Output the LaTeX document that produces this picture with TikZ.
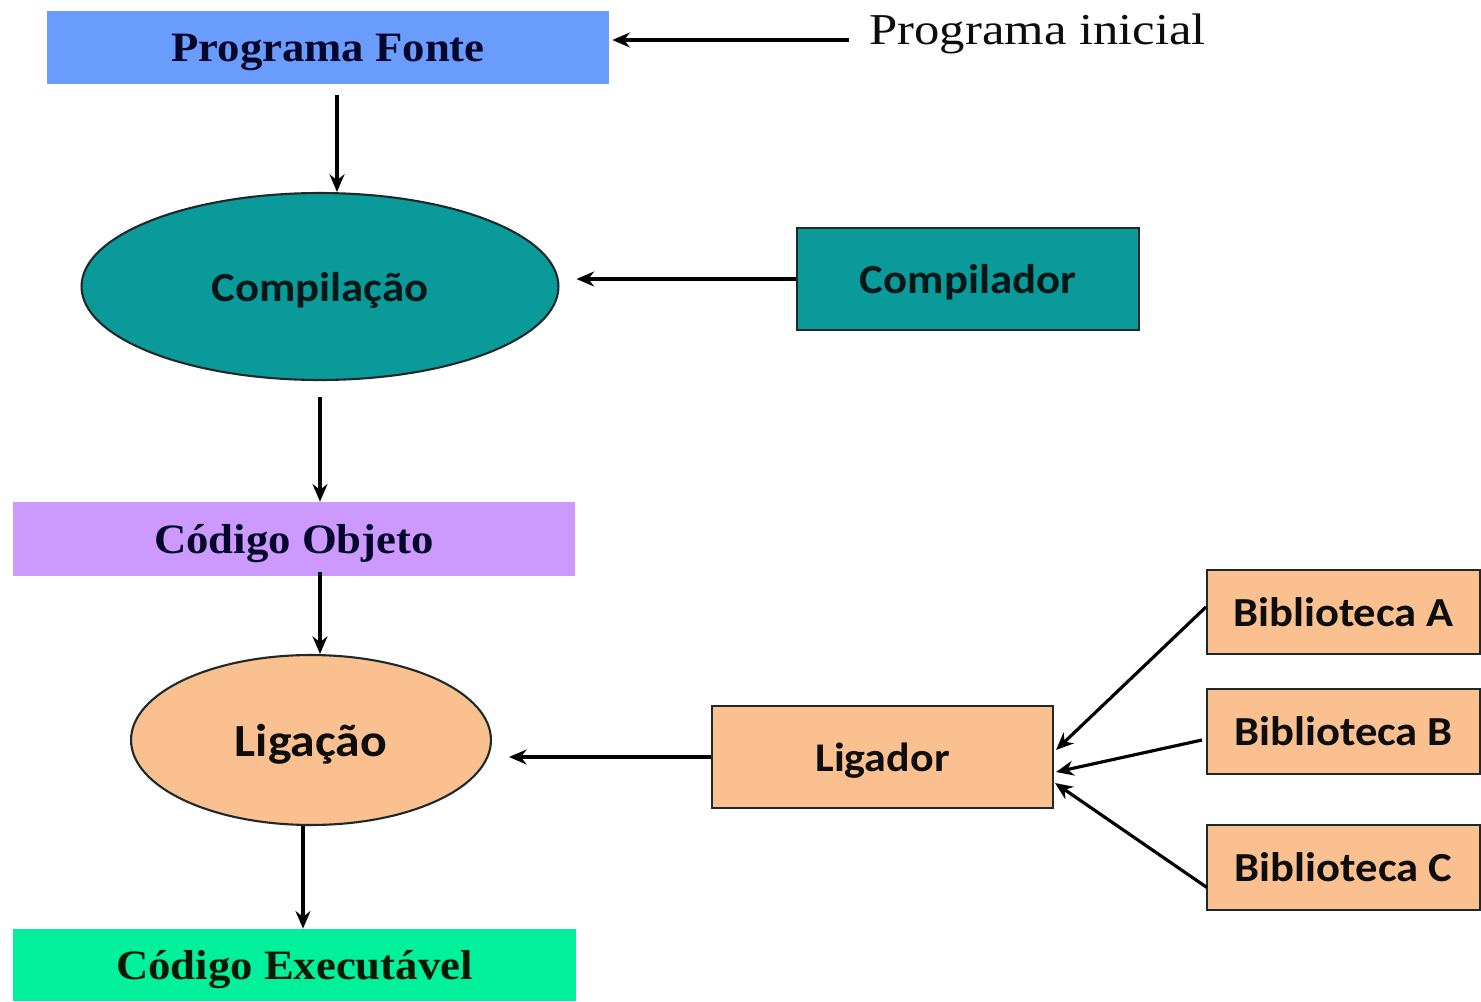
\documentclass[tikz,border=0pt]{standalone}
\usepackage{fontspec}
\usetikzlibrary{shapes.geometric,arrows.meta,calc}
\newfontfamily\serifbold[FakeStretch=1.07]{Liberation Serif}
\newfontfamily\serifwide[FakeStretch=1.15]{Liberation Serif}
\newfontfamily\calib[FakeStretch=1.08]{Carlito}
\definecolor{pfblue}{HTML}{6A9CFE}
\definecolor{tealc}{HTML}{0B9A9A}
\definecolor{lav}{HTML}{CC99FF}
\definecolor{peach}{HTML}{FBC08F}
\definecolor{greenc}{HTML}{00F09B}
\definecolor{navy}{HTML}{06062A}
\definecolor{dkgreen}{HTML}{061806}
\definecolor{edge}{HTML}{1E2A2A}
\definecolor{txt}{HTML}{0D0D0D}
\tikzset{
  flatbox/.style={rectangle, inner sep=0pt, draw=none, text depth=0pt},
  edgebox/.style={rectangle, inner sep=0pt, draw=edge, line width=1.2pt, text depth=0pt},
  oval/.style={ellipse, inner sep=0pt, draw=edge, line width=1.2pt, text depth=0pt},
  serifb/.style={font=\serifbold\bfseries\fontsize{23.8pt}{28pt}\selectfont},
  calb/.style={font=\calib\bfseries\fontsize{23.6pt}{28pt}\selectfont, text=txt},
  arr/.style={draw=black, line width=1.8pt, -{Stealth[length=10pt,width=8.5pt]}}
}
\begin{document}
\begin{tikzpicture}[x=0.02cm,y=-0.02cm]
\useasboundingbox (0,0) rectangle (1481,1001);
\fill[white] (0,0) rectangle (1481,1001);

% nodes
\node[flatbox, fill=pfblue, minimum width=11.24cm, minimum height=1.46cm, serifb, text=navy] (pf) at (328,47.5) {Programa Fonte};
\node[inner sep=0pt, anchor=west, font=\serifwide\fontsize{25.1pt}{29pt}\selectfont, text=txt] (pi) at (869,34) {Programa inicial};
\node[oval, fill=tealc, minimum width=9.54cm, minimum height=3.74cm, calb, text=black!85!tealc] (comp) at (320,286.5) {Compilação};
\node[edgebox, fill=tealc, minimum width=6.84cm, minimum height=2.04cm, calb, text=black!85!tealc] (cl) at (968,279) {Compilador};
\node[flatbox, fill=lav, minimum width=11.24cm, minimum height=1.48cm, serifb, text=navy] (co) at (294,539) {Código Objeto};
\node[oval, fill=peach, minimum width=7.2cm, minimum height=3.4cm, calb, font=\calib\bfseries\fontsize{26.2pt}{30pt}\selectfont] (lig) at (311,740) {Ligação};
\node[edgebox, fill=peach, minimum width=6.82cm, minimum height=2.04cm, calb, font=\calib\bfseries\fontsize{23.2pt}{28pt}\selectfont] (lg) at (882.5,757) {Ligador};
\node[flatbox, fill=greenc, minimum width=11.26cm, minimum height=1.44cm, serifb, text=dkgreen] (ce) at (294.5,965) {Código Executável};
\node[edgebox, fill=peach, minimum width=5.46cm, minimum height=1.68cm, calb, font=\calib\bfseries\fontsize{23.5pt}{28pt}\selectfont] (ba) at (1343.5,612) {Biblioteca A};
\node[edgebox, fill=peach, minimum width=5.46cm, minimum height=1.70cm, calb, font=\calib\bfseries\fontsize{23.5pt}{28pt}\selectfont] (bb) at (1343.5,731.5) {Biblioteca B};
\node[edgebox, fill=peach, minimum width=5.46cm, minimum height=1.70cm, calb, font=\calib\bfseries\fontsize{23.5pt}{28pt}\selectfont] (bc) at (1343.5,867.5) {Biblioteca C};

% helper coordinates
\coordinate (piS) at ($(pi.west)+(-20,6)$);
\coordinate (pfE) at ($(pf.east)+(3,0)$);
\coordinate (compE) at ($(comp.east)+(17,0)$);
\coordinate (ligE) at ($(lig.east)+(17,0)$);
\coordinate (ligS) at ($(lig.south)+(-8,0)$);

% connectors
\draw[arr] (piS) -- (piS -| pfE);
\draw[arr] ($(pf.south)+(9,11)$) -- ($(comp.north)+(17,0)$);
\draw[arr] (cl.west) -- (compE |- cl.west);
\draw[arr] ($(comp.south)+(0,16)$) -- (comp.south |- co.north);
\draw[arr] ($(co.south)+(26,-4)$) -- ($(lig.north)+(9,0)$);
\draw[arr] (lg.west) -- (ligE |- lg.west);
\draw[arr] (ligS) -- (ligS |- ce.north);
\draw[arr] ($(ba.west)+(0,-5)$) -- ($(lg.east)+(2,-7)$);
\draw[arr] ($(bb.west)+(-4,8.5)$) -- ($(lg.east)+(2,15)$);
\draw[arr] ($(bc.west)+(1,20)$) -- ($(lg.east)+(1,26)$);
\end{tikzpicture}
\end{document}
